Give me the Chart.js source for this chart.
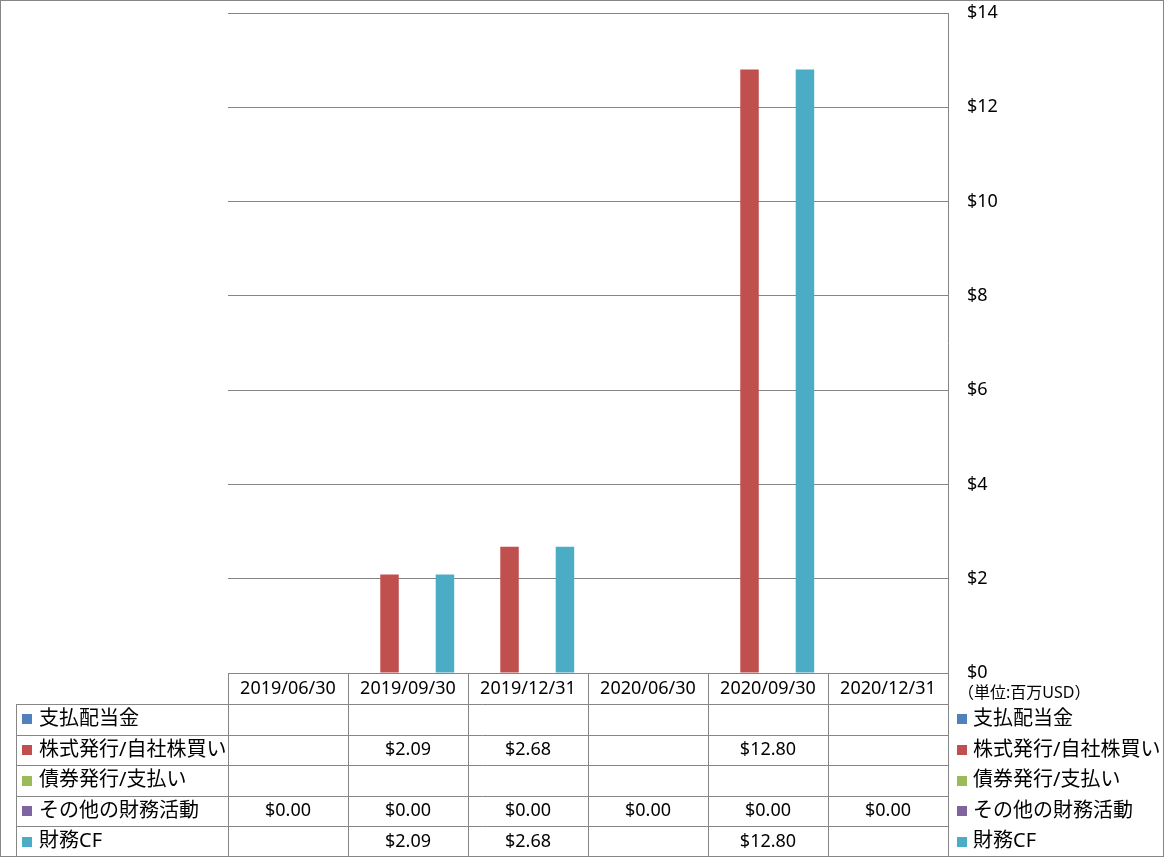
<!DOCTYPE html>
<html>
<head>
<meta charset="utf-8">
<script src="https://cdn.jsdelivr.net/npm/chart.js@4/dist/chart.umd.min.js"></script>
<style>
html,body{margin:0;padding:0;background:#fff;}
#wrap{width:1165px;height:858px;position:relative;}
</style>
</head>
<body>
<div id="wrap"><canvas id="c" width="1165" height="858"></canvas></div>
<script>
// ---- data ----
const categories = ['2019/06/30','2019/09/30','2019/12/31','2020/06/30','2020/09/30','2020/12/31'];
const seriesNames = ['支払配当金','株式発行/自社株買い','債券発行/支払い','その他の財務活動','財務CF'];
const dividendsPaid   = [null, null, null, null, null, null];
const equityIssuance  = [null, 2.09, 2.68, null, 12.80, null];
const debtIssuance    = [null, null, null, null, null, null];
const otherFinancing  = [0, 0, 0, 0, 0, 0];
const financingCF     = [null, 2.09, 2.68, null, 12.80, null];
const yMin = 0, yMax = 14, yStep = 2;
const unitLabel = '（単位:百万USD）';
const seriesColors = ['#4F81BD','#C0504D','#9BBB59','#8064A2','#4BACC6'];

const seriesData = [dividendsPaid, equityIssuance, debtIssuance, otherFinancing, financingCF];
const LINE = '#868686';
const NUM_FONT = '18px "Noto Sans", "Noto Sans CJK JP", sans-serif';
const LBL_FONT = '20px "Noto Sans", "Noto Sans CJK JP", sans-serif';
const fmt = v => (v === null || v === undefined) ? '' : '$' + v.toFixed(2);

const tablePlugin = {
  id: 'dataTable',
  afterDraw(chart) {
    const ctx = chart.ctx;
    const ca = chart.chartArea;
    const xs = chart.scales.x;
    const n = categories.length;
    const colW = (ca.right - ca.left) / n;
    const top = ca.bottom;
    const headerH = 31;
    const tableBottom = 857;
    const rowsTop = top + headerH;
    const rowH = (tableBottom - rowsTop) / seriesNames.length;
    const keyLeft = 16;

    ctx.save();
    ctx.strokeStyle = LINE;
    ctx.lineWidth = 1;
    ctx.beginPath();
    for (let i = 0; i <= n; i++) {
      const x = Math.round(ca.left + i * colW) + 0.5;
      ctx.moveTo(x, top);
      ctx.lineTo(x, tableBottom);
    }
    ctx.moveTo(keyLeft + 0.5, rowsTop);
    ctx.lineTo(keyLeft + 0.5, tableBottom);
    for (let r = 0; r < seriesNames.length; r++) {
      const y = Math.round(rowsTop + r * rowH) + 0.5;
      ctx.moveTo(keyLeft, y);
      ctx.lineTo(Math.round(ca.right) + 0.5, y);
    }
    ctx.stroke();

    ctx.fillStyle = '#000';
    ctx.textAlign = 'center';
    ctx.textBaseline = 'middle';
    ctx.font = NUM_FONT;
    categories.forEach((c, i) => {
      ctx.fillText(c, xs.getPixelForValue(i), top + headerH / 2 + 0.5);
    });

    seriesNames.forEach((name, r) => {
      const cy = rowsTop + r * rowH + rowH / 2;
      ctx.fillStyle = seriesColors[r];
      ctx.fillRect(22, Math.round(cy - 5), 10, 10);
      ctx.fillStyle = '#000';
      ctx.textAlign = 'left';
      ctx.font = LBL_FONT;
      ctx.fillText(name, 39, cy);
      ctx.textAlign = 'center';
      ctx.font = NUM_FONT;
      seriesData[r].forEach((v, i) => {
        const t = fmt(v);
        if (t) ctx.fillText(t, xs.getPixelForValue(i), cy);
      });
      ctx.fillStyle = seriesColors[r];
      ctx.fillRect(957, Math.round(cy - 5), 10, 10);
      ctx.fillStyle = '#000';
      ctx.textAlign = 'left';
      ctx.font = LBL_FONT;
      ctx.fillText(name, 973, cy);
    });

    ctx.font = '16px "Noto Sans", "Noto Sans CJK JP", sans-serif';
    ctx.textAlign = 'left';
    ctx.fillStyle = '#000';
    ctx.fillText(unitLabel, 958, 693);

    ctx.strokeStyle = LINE;
    ctx.strokeRect(0.5, 0.5, 1163, 856);
    ctx.restore();
  }
};

new Chart(document.getElementById('c'), {
  type: 'bar',
  data: {
    labels: categories,
    datasets: seriesNames.map((name, i) => ({
      label: name,
      data: seriesData[i],
      backgroundColor: seriesColors[i],
      borderWidth: 0,
      categoryPercentage: 0.77,
      barPercentage: 1.0
    }))
  },
  options: {
    responsive: false,
    animation: false,
    devicePixelRatio: 1,
    layout: { padding: { left: 228, top: 13, right: 0, bottom: 185 } },
    plugins: { legend: { display: false }, tooltip: { enabled: false } },
    scales: {
      x: { display: false },
      y: {
        position: 'right',
        min: yMin, max: yMax,
        ticks: {
          stepSize: yStep,
          padding: 19,
          color: '#000',
          font: { family: '"Noto Sans", "Noto Sans CJK JP", sans-serif', size: 18 },
          callback: v => '$' + v
        },
        grid: { color: LINE, drawTicks: false, lineWidth: 1 },
        border: { display: true, color: LINE, width: 1 },
        afterFit(scale) { scale.width = 217; scale.paddingTop = 0; scale.paddingBottom = 0; }
      }
    }
  },
  plugins: [tablePlugin]
});
</script>
</body>
</html>
